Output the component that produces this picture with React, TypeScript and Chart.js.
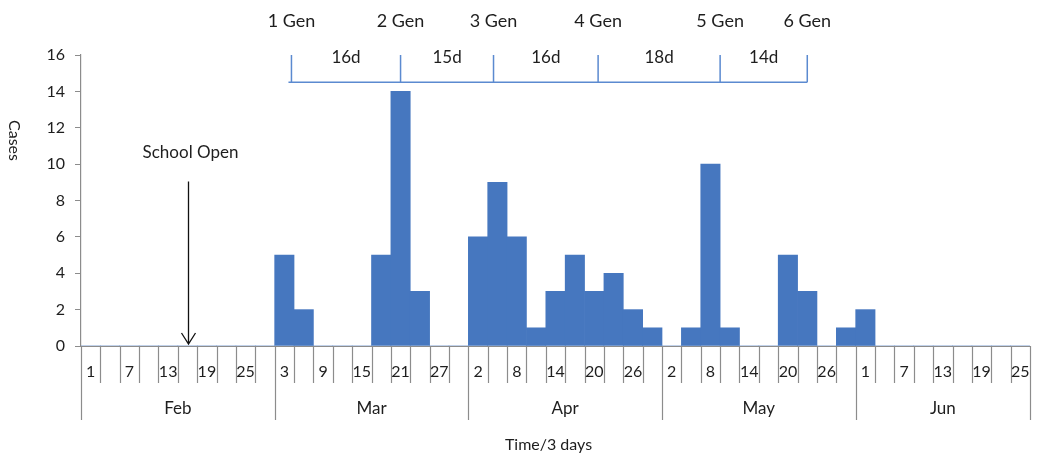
import React, { useEffect, useRef } from "react";
import { Chart, registerables } from "chart.js";

Chart.register(...registerables);

// ---- data ----
const months = ["Feb", "Mar", "Apr", "May", "Jun"];
const monthBinCounts = [10, 10, 10, 10, 9];
const binDayLabels = [
  "1", "4", "7", "10", "13", "16", "19", "22", "25", "28",
  "3", "6", "9", "12", "15", "18", "21", "24", "27", "30",
  "2", "5", "8", "11", "14", "17", "20", "23", "26", "29",
  "2", "5", "8", "11", "14", "17", "20", "23", "26", "29",
  "1", "4", "7", "10", "13", "16", "19", "22", "25",
];
const cases = [
  0, 0, 0, 0, 0, 0, 0, 0, 0, 0,
  5, 2, 0, 0, 0, 5, 14, 3, 0, 0,
  6, 9, 6, 1, 3, 5, 3, 4, 2, 1,
  0, 1, 10, 1, 0, 0, 5, 3, 0, 1,
  2, 0, 0, 0, 0, 0, 0, 0, 0,
];
const yMin = 0;
const yMax = 16;
const yStep = 2;
const dayLabelStep = 2;
const genLabels = ["1 Gen", "2 Gen", "3 Gen", "4 Gen", "5 Gen", "6 Gen"];
const genDays = [32.6, 49.5, 63.9, 80.1, 99.0, 112.5]; // days since Feb 1
const intervalLabels = ["16d", "15d", "16d", "18d", "14d"];
const schoolOpenBin = 5;
const schoolOpenText = "School Open";
const yTitle = "Cases";
const xTitle = "Time/3 days";

// category labels built from months/day labels
const categoryLabels: string[] = [];
{
  let k = 0;
  months.forEach((m, mi) => {
    for (let j = 0; j < monthBinCounts[mi]; j++) {
      categoryLabels.push(m + " " + binDayLabels[k]);
      k++;
    }
  });
}

const FONT = "Lato, 'Open Sans', sans-serif";
const TEXT = "#1e1e1e";
const AXIS = "#8c8c8c";
const BAR = "#4677bf";
const BRACKET = "#5b8ad0";

const overlayPlugin = {
  id: "overlay",
  afterDraw(chart: any) {
    const ctx = chart.ctx as CanvasRenderingContext2D;
    const xs = chart.scales.x;
    const ys = chart.scales.y;
    const ca = chart.chartArea;
    const n = categoryLabels.length;
    const half = (xs.getPixelForValue(1) - xs.getPixelForValue(0)) / 2;
    const bottom = ys.getPixelForValue(0);
    const dayToPx = (d: number) => xs.getPixelForValue(d / 3 - 0.5);

    ctx.save();
    // x axis line
    ctx.strokeStyle = AXIS;
    ctx.lineWidth = 1.2;
    ctx.beginPath();
    ctx.moveTo(ca.left, Math.round(bottom) + 0.5);
    ctx.lineTo(xs.getPixelForValue(n - 1) + half, Math.round(bottom) + 0.5);
    ctx.stroke();

    // month boundary indices
    const monthStarts: number[] = [];
    let acc = 0;
    monthBinCounts.forEach((c) => {
      monthStarts.push(acc);
      acc += c;
    });
    monthStarts.push(acc);

    for (let i = 0; i <= n; i++) {
      const px = Math.round(i < n ? xs.getPixelForValue(i) - half : xs.getPixelForValue(n - 1) + half) + 0.5;
      const isMonth = monthStarts.indexOf(i) >= 0;
      ctx.beginPath();
      ctx.moveTo(px, bottom);
      ctx.lineTo(px, bottom + (isMonth ? 74 : 37));
      ctx.stroke();
    }

    // day labels
    ctx.fillStyle = TEXT;
    ctx.font = "16px " + FONT;
    ctx.textAlign = "center";
    ctx.textBaseline = "middle";
    for (let i = 0; i < n; i += dayLabelStep) {
      ctx.fillText(binDayLabels[i], xs.getPixelForValue(i), bottom + 26);
    }
    // month labels
    ctx.font = "17px " + FONT;
    months.forEach((m, mi) => {
      const a = xs.getPixelForValue(monthStarts[mi]) - half;
      const b = xs.getPixelForValue(monthStarts[mi + 1] - 1) + half;
      ctx.fillText(m, (a + b) / 2, bottom + 63);
    });
    // x title
    ctx.font = "16px " + FONT;
    ctx.fillText(xTitle, (ca.left + ca.right) / 2 - 7, bottom + 99);

    // y title (rotated clockwise)
    ctx.save();
    ctx.translate(14, ys.getPixelForValue(11.3));
    ctx.rotate(Math.PI / 2);
    ctx.font = "16px " + FONT;
    ctx.fillText(yTitle, 0, 0);
    ctx.restore();

    // generation bracket
    ctx.strokeStyle = BRACKET;
    ctx.lineWidth = 1.5;
    const by = ys.getPixelForValue(14.5);
    const ty = ys.getPixelForValue(16);
    ctx.beginPath();
    ctx.moveTo(dayToPx(genDays[0]) - 3, by);
    ctx.lineTo(dayToPx(genDays[genDays.length - 1]), by);
    genDays.forEach((d) => {
      const px = dayToPx(d);
      ctx.moveTo(px, ty);
      ctx.lineTo(px, by);
    });
    ctx.stroke();

    ctx.fillStyle = TEXT;
    ctx.font = "17px " + FONT;
    intervalLabels.forEach((t, i) => {
      const mx = (dayToPx(genDays[i]) + dayToPx(genDays[i + 1])) / 2;
      ctx.fillText(t, mx, ys.getPixelForValue(15.85));
    });
    ctx.font = "18px " + FONT;
    genLabels.forEach((t, i) => {
      ctx.fillText(t, dayToPx(genDays[i]), ys.getPixelForValue(17.85));
    });

    // school open arrow
    const ax = Math.round(xs.getPixelForValue(schoolOpenBin)) + 0.5;
    ctx.font = "17px " + FONT;
    ctx.fillText(schoolOpenText, ax + 2, ys.getPixelForValue(10.66));
    ctx.strokeStyle = "#111";
    ctx.lineWidth = 1.3;
    const tipY = bottom - 2;
    ctx.beginPath();
    ctx.moveTo(ax, ys.getPixelForValue(9.05));
    ctx.lineTo(ax, tipY);
    ctx.moveTo(ax - 7, tipY - 11);
    ctx.lineTo(ax, tipY);
    ctx.lineTo(ax + 7, tipY - 11);
    ctx.stroke();

    ctx.restore();
  },
};

export default function App() {
  const ref = useRef<HTMLCanvasElement | null>(null);
  useEffect(() => {
    document.body.style.margin = "0";
    const canvas = ref.current;
    if (!canvas) return;
    const chart = new Chart(canvas, {
      type: "bar",
      data: {
        labels: categoryLabels,
        datasets: [
          {
            data: cases,
            backgroundColor: BAR,
            borderWidth: 0,
            barPercentage: 1,
            categoryPercentage: 1,
          },
        ],
      },
      options: {
        responsive: false,
        animation: false,
        layout: { padding: { left: 0, top: 55, right: 10, bottom: 110 } },
        plugins: {
          legend: { display: false },
          tooltip: { enabled: false },
        },
        scales: {
          x: {
            display: false,
            offset: true,
          },
          y: {
            min: yMin,
            max: yMax,
            afterFit: (s: any) => {
              s.width = 81;
            },
            ticks: {
              stepSize: yStep,
              color: TEXT,
              font: { family: FONT, size: 16 },
              padding: 10,
            },
            grid: {
              drawOnChartArea: false,
              drawTicks: true,
              tickLength: 6,
              color: AXIS,
            },
            border: { color: AXIS, width: 1.2 },
          },
        },
      },
      plugins: [overlayPlugin],
    });
    return () => chart.destroy();
  }, []);
  return (
    <div style={{ width: 1040, height: 456, background: "#fff" }}>
      <canvas ref={ref} width={1040} height={456} />
    </div>
  );
}
